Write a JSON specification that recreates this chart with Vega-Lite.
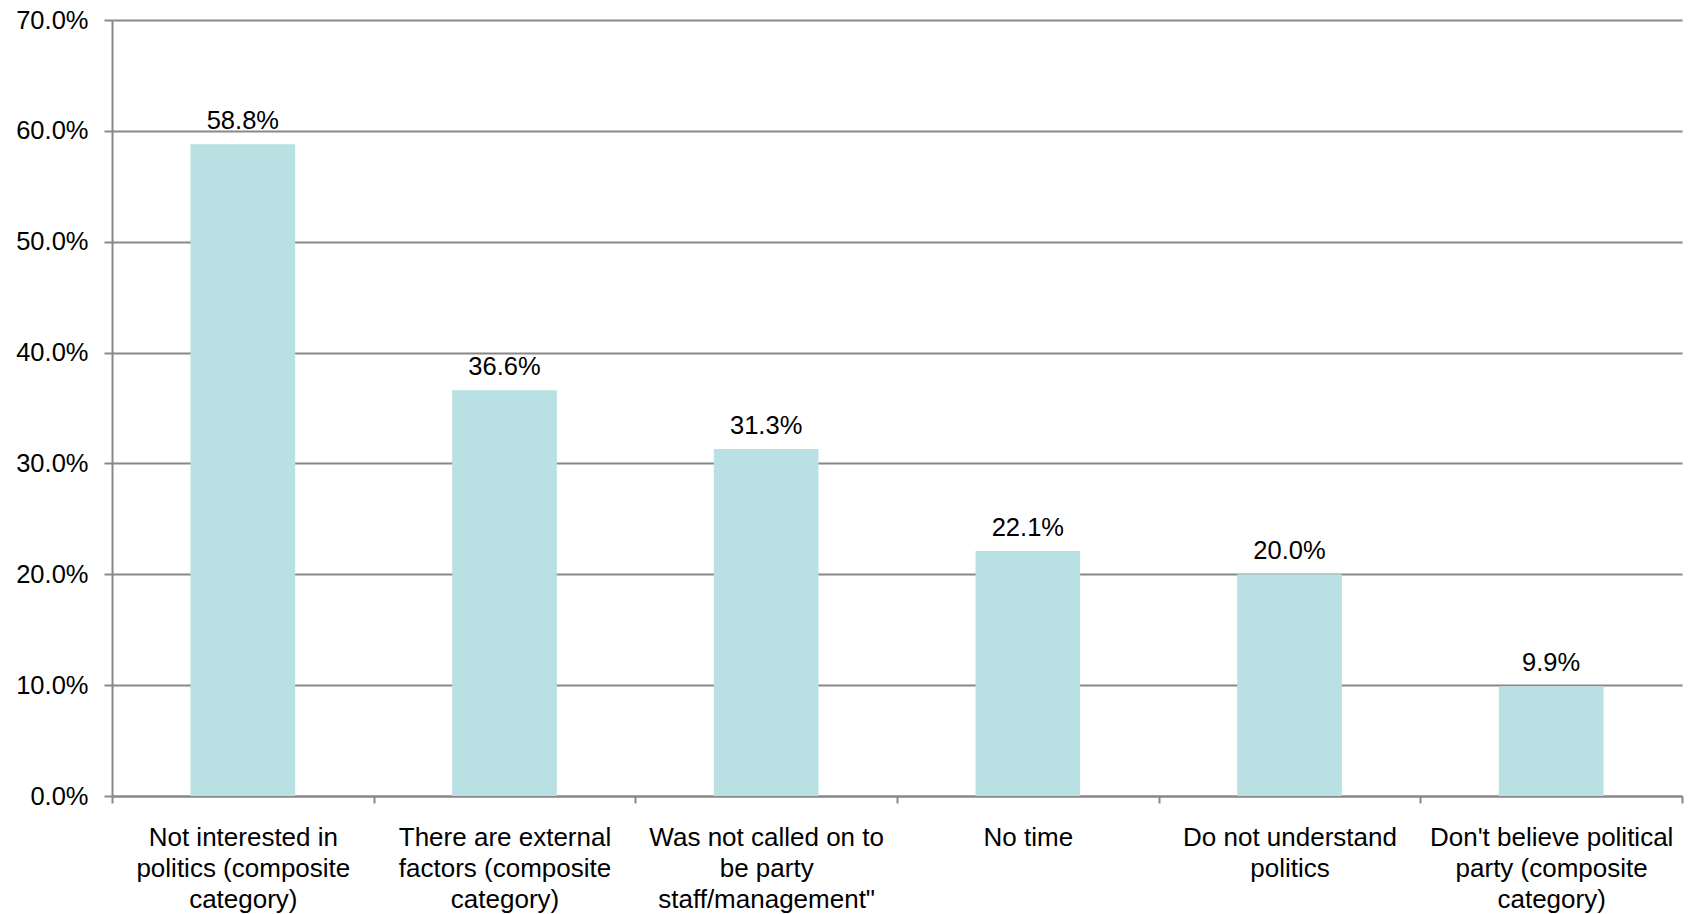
{
  "$schema": "https://vega.github.io/schema/vega-lite/v6.json",
  "width": 1570,
  "height": 776,
  "autosize": "none",
  "padding": {"left": 112, "top": 20, "right": 6, "bottom": 118},
  "background": "white",
  "config": {
    "view": {"stroke": null},
    "font": "Liberation Sans"
  },
  "data": {
    "values": [
      {"reason": "Not interested in politics (composite category)", "share": 0.588},
      {"reason": "There are external factors (composite category)", "share": 0.366},
      {"reason": "Was not called on to be party staff/management\"", "share": 0.313},
      {"reason": "No time", "share": 0.221},
      {"reason": "Do not understand politics", "share": 0.200},
      {"reason": "Don't believe political party (composite category)", "share": 0.099}
    ]
  },
  "encoding": {
    "x": {
      "field": "reason",
      "type": "nominal",
      "sort": null,
      "scale": {"paddingInner": 0, "paddingOuter": 0},
      "axis": {
        "title": null,
        "labelAngle": 0,
        "tickBand": "extent",
        "domainColor": "#888888",
        "domainWidth": 2,
        "tickColor": "#888888",
        "tickWidth": 2,
        "tickSize": 7,
        "labelPadding": 21,
        "labelFontSize": 26,
        "labelColor": "#000000",
        "labelBaseline": "top",
        "labelLineHeight": 31,
        "labelLimit": 0,
        "labelExpr": "datum.value == 'Not interested in politics (composite category)' ? ['Not interested in', 'politics (composite', 'category)'] : datum.value == 'There are external factors (composite category)' ? ['There are external', 'factors (composite', 'category)'] : datum.value == 'Was not called on to be party staff/management\"' ? ['Was not called on to', 'be party', 'staff/management\"'] : datum.value == 'Do not understand politics' ? ['Do not understand', 'politics'] : datum.value == \"Don't believe political party (composite category)\" ? [\"Don't believe political\", 'party (composite', 'category)'] : datum.value"
      }
    },
    "y": {
      "field": "share",
      "type": "quantitative",
      "scale": {"domain": [0, 0.7], "nice": false},
      "axis": {
        "title": null,
        "format": ".1%",
        "values": [0, 0.1, 0.2, 0.3, 0.4, 0.5, 0.6, 0.7],
        "grid": true,
        "gridColor": "#888888",
        "gridWidth": 2,
        "domainColor": "#888888",
        "domainWidth": 2,
        "tickColor": "#888888",
        "tickWidth": 2,
        "tickSize": 8,
        "labelPadding": 16,
        "labelFontSize": 25.5,
        "labelColor": "#000000"
      }
    }
  },
  "layer": [
    {"mark": {"type": "bar", "color": "#B9E0E3", "width": {"band": 0.4}}},
    {
      "mark": {"type": "text", "baseline": "alphabetic", "dy": -15, "fontSize": 25.5, "color": "#000000"},
      "encoding": {"text": {"field": "share", "type": "quantitative", "format": ".1%"}}
    }
  ]
}
